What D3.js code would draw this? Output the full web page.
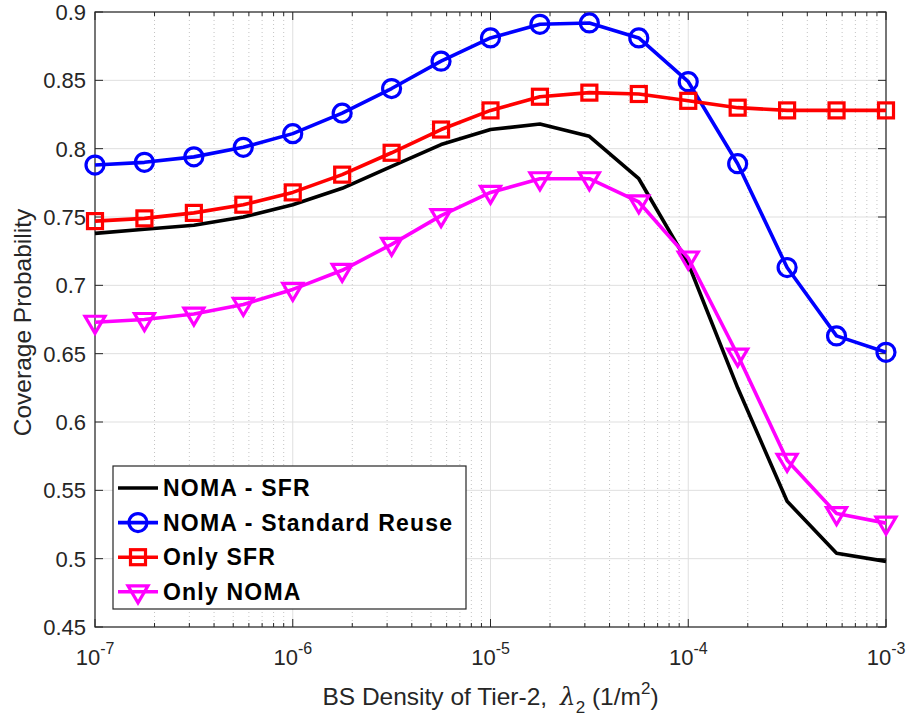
<!DOCTYPE html>
<html>
<head>
<meta charset="utf-8">
<script src="https://cdn.jsdelivr.net/npm/d3@7/dist/d3.min.js"></script>
<style>
  body { margin: 0; background: #fff; }
  text { font-family: "Liberation Sans", Arial, Helvetica, sans-serif; }
</style>
</head>
<body>
<div id="my_dataviz"></div>
<script>
// BS density of tier-2 (1/m^2), four points per decade
var density = [1e-7, 1.778e-7, 3.162e-7, 5.623e-7,
               1e-6, 1.778e-6, 3.162e-6, 5.623e-6,
               1e-5, 1.778e-5, 3.162e-5, 5.623e-5,
               1e-4, 1.778e-4, 3.162e-4, 5.623e-4, 1e-3];

var nomaSFR      = [0.738, 0.741, 0.744, 0.750, 0.759, 0.771, 0.787, 0.803, 0.814, 0.818,
                    0.809, 0.778, 0.716, 0.625, 0.542, 0.504, 0.498];
var nomaStandard = [0.788, 0.790, 0.794, 0.801, 0.811, 0.826, 0.844, 0.864, 0.881, 0.891,
                    0.892, 0.881, 0.849, 0.789, 0.713, 0.663, 0.651];
var onlySFR      = [0.747, 0.749, 0.753, 0.759, 0.768, 0.781, 0.797, 0.814, 0.828, 0.838,
                    0.841, 0.840, 0.835, 0.830, 0.828, 0.828, 0.828];
var onlyNOMA     = [0.673, 0.675, 0.679, 0.686, 0.697, 0.711, 0.730, 0.751, 0.768, 0.778,
                    0.778, 0.761, 0.720, 0.649, 0.572, 0.533, 0.526];

var seriesNames = ["NOMA - SFR", "NOMA - Standard Reuse", "Only SFR", "Only NOMA"];
var yTicks = [0.45, 0.5, 0.55, 0.6, 0.65, 0.7, 0.75, 0.8, 0.85, 0.9];
var xTicks = [1e-7, 1e-6, 1e-5, 1e-4, 1e-3];
var xTickExp = ["-7", "-6", "-5", "-4", "-3"];

var series = [
  {name: seriesNames[0], values: nomaSFR,      color: "#000000", marker: "none"},
  {name: seriesNames[1], values: nomaStandard, color: "#0000ff", marker: "circle"},
  {name: seriesNames[2], values: onlySFR,      color: "#ff0000", marker: "square"},
  {name: seriesNames[3], values: onlyNOMA,     color: "#ff00ff", marker: "triangle"}
];

// set the dimensions and margins of the graph
var margin = {top: 12, right: 24, bottom: 96, left: 95},
    width = 910 - margin.left - margin.right,
    height = 723 - margin.top - margin.bottom;

var svg = d3.select("#my_dataviz")
  .append("svg")
    .attr("width", 910)
    .attr("height", 723)
  .append("g")
    .attr("transform", "translate(" + margin.left + "," + margin.top + ")");

var x = d3.scaleLog().domain([1e-7, 1e-3]).range([0, width]);
var y = d3.scaleLinear().domain([0.45, 0.9]).range([height, 0]);

var axisColor = "#262626";

// minor x positions (2..9 in each decade)
var minorX = [];
xTicks.slice(0, 4).forEach(function(d) {
  for (var m = 2; m <= 9; m++) minorX.push(d * m);
});

// minor grid (dotted)
svg.append("g").selectAll("line")
  .data(minorX).enter().append("line")
    .attr("x1", function(d) { return x(d); })
    .attr("x2", function(d) { return x(d); })
    .attr("y1", 0).attr("y2", height)
    .attr("stroke", "#c4c4c4")
    .attr("stroke-width", 1)
    .attr("stroke-dasharray", "1,3");

// major grid
svg.append("g").selectAll("line")
  .data(xTicks).enter().append("line")
    .attr("x1", function(d) { return x(d); })
    .attr("x2", function(d) { return x(d); })
    .attr("y1", 0).attr("y2", height)
    .attr("stroke", "#dfdfdf").attr("stroke-width", 1);
svg.append("g").selectAll("line")
  .data(yTicks).enter().append("line")
    .attr("y1", function(d) { return y(d); })
    .attr("y2", function(d) { return y(d); })
    .attr("x1", 0).attr("x2", width)
    .attr("stroke", "#dfdfdf").attr("stroke-width", 1);

// ticks (inside, on all four sides)
var ticks = svg.append("g").attr("stroke", axisColor).attr("stroke-width", 1);
yTicks.forEach(function(d) {
  ticks.append("line").attr("x1", 0).attr("x2", 8).attr("y1", y(d)).attr("y2", y(d));
  ticks.append("line").attr("x1", width).attr("x2", width - 8).attr("y1", y(d)).attr("y2", y(d));
});
xTicks.forEach(function(d) {
  ticks.append("line").attr("x1", x(d)).attr("x2", x(d)).attr("y1", height).attr("y2", height - 8);
  ticks.append("line").attr("x1", x(d)).attr("x2", x(d)).attr("y1", 0).attr("y2", 8);
});
minorX.forEach(function(d) {
  ticks.append("line").attr("x1", x(d)).attr("x2", x(d)).attr("y1", height).attr("y2", height - 4);
  ticks.append("line").attr("x1", x(d)).attr("x2", x(d)).attr("y1", 0).attr("y2", 4);
});

// box
svg.append("rect")
  .attr("x", 0).attr("y", 0).attr("width", width).attr("height", height)
  .attr("fill", "none").attr("stroke", axisColor).attr("stroke-width", 1.2);

// y tick labels
svg.append("g").selectAll("text")
  .data(yTicks).enter().append("text")
    .attr("x", -9)
    .attr("y", function(d) { return y(d); })
    .attr("dy", "0.36em")
    .attr("text-anchor", "end")
    .attr("fill", axisColor)
    .style("font-size", "22px")
    .text(function(d) { return d3.format("")(+d.toFixed(2)); });

// x tick labels 10^n
xTicks.forEach(function(d, i) {
  var t = svg.append("text")
    .attr("x", x(d))
    .attr("y", height + 38)
    .attr("text-anchor", "middle")
    .attr("fill", axisColor)
    .style("font-size", "22px");
  t.append("tspan").text("10");
  t.append("tspan").attr("dy", -11).style("font-size", "16px").text(xTickExp[i]);
});

// axis labels
svg.append("text")
  .attr("transform", "translate(" + (31 - margin.left) + "," + (height / 2 + 3) + ") rotate(-90)")
  .attr("text-anchor", "middle")
  .attr("fill", axisColor)
  .style("font-size", "24.5px")
  .text("Coverage Probability");

var xl = svg.append("text")
  .attr("x", width / 2)
  .attr("y", height + 78)
  .attr("text-anchor", "middle")
  .attr("fill", axisColor)
  .style("font-size", "24.5px");
xl.append("tspan").text("BS Density of Tier-2,");
xl.append("tspan").attr("dx", 13).style("font-family", "'DejaVu Serif', serif").style("font-style", "italic").text("λ");
xl.append("tspan").attr("dy", 8).style("font-size", "17px").text("2");
xl.append("tspan").attr("dy", -8).text(" (1/m");
xl.append("tspan").attr("dy", -11).style("font-size", "17px").text("2");
xl.append("tspan").attr("dy", 11).text(")");

// markers
function drawMarker(g, type, color, cx, cy) {
  if (type === "circle") {
    g.append("circle").attr("cx", cx).attr("cy", cy).attr("r", 9)
      .attr("fill", "none").attr("stroke", color).attr("stroke-width", 3.2);
  } else if (type === "square") {
    g.append("rect").attr("x", cx - 7.5).attr("y", cy - 7.5).attr("width", 15).attr("height", 15)
      .attr("fill", "none").attr("stroke", color).attr("stroke-width", 3.2);
  } else if (type === "triangle") {
    g.append("path")
      .attr("d", "M" + (cx - 10) + "," + (cy - 6) + "L" + (cx + 10) + "," + (cy - 6) + "L" + cx + "," + (cy + 11) + "Z")
      .attr("fill", "none").attr("stroke", color).attr("stroke-width", 3.2)
      .attr("stroke-linejoin", "miter");
  }
}

var line = d3.line()
  .x(function(d, i) { return x(density[i]); })
  .y(function(d) { return y(d); });

series.forEach(function(s) {
  var g = svg.append("g");
  g.append("path")
    .datum(s.values)
    .attr("d", line)
    .attr("fill", "none")
    .attr("stroke", s.color)
    .attr("stroke-width", 3.6)
    .attr("stroke-linejoin", "round");
  s.values.forEach(function(v, i) {
    drawMarker(g, s.marker, s.color, x(density[i]), y(v));
  });
});

// legend
var lx = 113 - margin.left, ly = 466 - margin.top;
var legend = svg.append("g");
legend.append("rect")
  .attr("x", lx).attr("y", ly).attr("width", 353).attr("height", 143)
  .attr("fill", "#fff").attr("stroke", axisColor).attr("stroke-width", 1.2);
series.forEach(function(s, i) {
  var cy = ly + 22 + i * 34.6;
  legend.append("line")
    .attr("x1", lx + 5).attr("x2", lx + 45).attr("y1", cy).attr("y2", cy)
    .attr("stroke", s.color).attr("stroke-width", 3.6);
  drawMarker(legend, s.marker, s.color, lx + 25, cy);
  legend.append("text")
    .attr("x", lx + 50).attr("y", cy).attr("dy", "0.36em")
    .attr("fill", "#000")
    .style("font-size", "23px").style("font-weight", "bold")
    .style("letter-spacing", "1.2px")
    .text(s.name);
});
</script>
</body>
</html>
